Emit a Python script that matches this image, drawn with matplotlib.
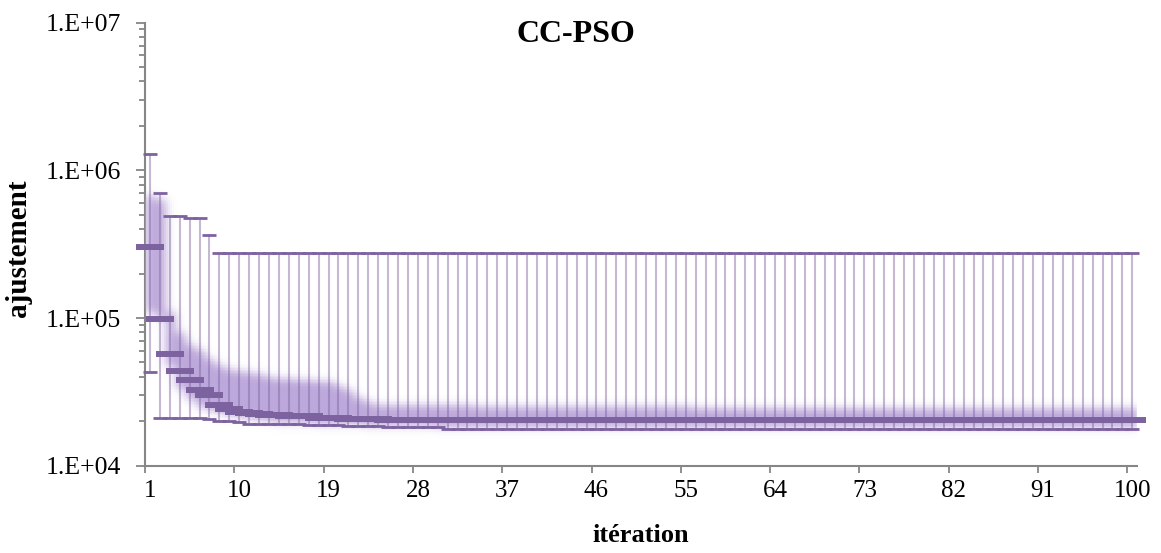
import numpy as np
import matplotlib
matplotlib.use("Agg")
import matplotlib.pyplot as plt
from matplotlib.colors import LinearSegmentedColormap
from matplotlib.ticker import FixedLocator, LogLocator, NullFormatter, FuncFormatter

# data
iterations = list(range(1, 101))
x_labels = [1, 10, 19, 28, 37, 46, 55, 64, 73, 82, 91, 100]

max_vals = [1.30e6, 7.0e5, 4.9e5, 4.9e5, 4.73e5, 4.73e5, 3.63e5, 2.76e5, 2.76e5, 2.76e5,
            2.76e5, 2.76e5, 2.76e5, 2.76e5, 2.76e5, 2.76e5, 2.76e5, 2.76e5, 2.76e5, 2.76e5,
            2.76e5, 2.76e5, 2.76e5, 2.76e5, 2.76e5, 2.76e5, 2.76e5, 2.76e5, 2.76e5, 2.76e5,
            2.76e5, 2.76e5, 2.76e5, 2.76e5, 2.76e5, 2.76e5, 2.76e5, 2.76e5, 2.76e5, 2.76e5,
            2.76e5, 2.76e5, 2.76e5, 2.76e5, 2.76e5, 2.76e5, 2.76e5, 2.76e5, 2.76e5, 2.76e5,
            2.76e5, 2.76e5, 2.76e5, 2.76e5, 2.76e5, 2.76e5, 2.76e5, 2.76e5, 2.76e5, 2.76e5,
            2.76e5, 2.76e5, 2.76e5, 2.76e5, 2.76e5, 2.76e5, 2.76e5, 2.76e5, 2.76e5, 2.76e5,
            2.76e5, 2.76e5, 2.76e5, 2.76e5, 2.76e5, 2.76e5, 2.76e5, 2.76e5, 2.76e5, 2.76e5,
            2.76e5, 2.76e5, 2.76e5, 2.76e5, 2.76e5, 2.76e5, 2.76e5, 2.76e5, 2.76e5, 2.76e5,
            2.76e5, 2.76e5, 2.76e5, 2.76e5, 2.76e5, 2.76e5, 2.76e5, 2.76e5, 2.76e5, 2.76e5]

mean_vals = [3.04e5, 9.9e4, 5.73e4, 4.4e4, 3.82e4, 3.27e4, 3.02e4, 2.59e4, 2.43e4, 2.30e4,
             2.26e4, 2.24e4, 2.22e4, 2.19e4, 2.18e4, 2.17e4, 2.16e4, 2.11e4, 2.10e4, 2.09e4,
             2.07e4, 2.07e4, 2.07e4, 2.06e4, 2.05e4, 2.05e4, 2.05e4, 2.05e4, 2.05e4, 2.05e4,
             2.05e4, 2.05e4, 2.04e4, 2.04e4, 2.04e4, 2.04e4, 2.04e4, 2.04e4, 2.04e4, 2.04e4,
             2.04e4, 2.04e4, 2.04e4, 2.04e4, 2.04e4, 2.04e4, 2.04e4, 2.04e4, 2.04e4, 2.04e4,
             2.04e4, 2.04e4, 2.04e4, 2.04e4, 2.04e4, 2.04e4, 2.04e4, 2.04e4, 2.04e4, 2.04e4,
             2.03e4, 2.03e4, 2.03e4, 2.03e4, 2.03e4, 2.03e4, 2.03e4, 2.03e4, 2.03e4, 2.03e4,
             2.03e4, 2.03e4, 2.03e4, 2.03e4, 2.03e4, 2.03e4, 2.03e4, 2.03e4, 2.03e4, 2.03e4,
             2.03e4, 2.03e4, 2.03e4, 2.03e4, 2.03e4, 2.03e4, 2.03e4, 2.03e4, 2.03e4, 2.03e4,
             2.03e4, 2.03e4, 2.03e4, 2.03e4, 2.03e4, 2.03e4, 2.03e4, 2.03e4, 2.03e4, 2.03e4]

min_vals = [4.29e4, 2.10e4, 2.10e4, 2.10e4, 2.10e4, 2.10e4, 2.06e4, 2.02e4, 2.02e4, 1.98e4,
            1.93e4, 1.92e4, 1.92e4, 1.92e4, 1.92e4, 1.91e4, 1.88e4, 1.88e4, 1.88e4, 1.88e4,
            1.85e4, 1.85e4, 1.85e4, 1.85e4, 1.82e4, 1.82e4, 1.82e4, 1.82e4, 1.82e4, 1.82e4,
            1.78e4, 1.78e4, 1.78e4, 1.78e4, 1.78e4, 1.78e4, 1.78e4, 1.78e4, 1.78e4, 1.78e4,
            1.78e4, 1.78e4, 1.78e4, 1.78e4, 1.78e4, 1.78e4, 1.78e4, 1.78e4, 1.78e4, 1.78e4,
            1.78e4, 1.78e4, 1.78e4, 1.78e4, 1.78e4, 1.78e4, 1.78e4, 1.78e4, 1.78e4, 1.78e4,
            1.78e4, 1.78e4, 1.78e4, 1.78e4, 1.78e4, 1.78e4, 1.78e4, 1.78e4, 1.78e4, 1.78e4,
            1.78e4, 1.78e4, 1.78e4, 1.78e4, 1.78e4, 1.78e4, 1.78e4, 1.78e4, 1.78e4, 1.78e4,
            1.78e4, 1.78e4, 1.78e4, 1.78e4, 1.78e4, 1.78e4, 1.78e4, 1.78e4, 1.78e4, 1.78e4,
            1.78e4, 1.78e4, 1.78e4, 1.78e4, 1.78e4, 1.78e4, 1.78e4, 1.78e4, 1.78e4, 1.78e4]

# shaded (soft edged) band per iteration
band_hi = [6.8e5, 6.3e5, 1.1e5, 8.0e4, 6.6e4, 6.0e4, 5.3e4, 4.8e4, 4.5e4, 4.4e4,
           4.3e4, 4.2e4, 4.0e4, 3.9e4, 3.85e4, 3.8e4, 3.8e4, 3.75e4, 3.7e4, 3.5e4,
           3.2e4, 2.9e4, 2.7e4, 2.6e4, 2.55e4, 2.55e4, 2.55e4, 2.55e4, 2.55e4, 2.55e4,
           2.55e4, 2.55e4, 2.55e4, 2.5e4, 2.5e4, 2.5e4, 2.5e4, 2.5e4, 2.5e4, 2.5e4,
           2.5e4, 2.5e4, 2.5e4, 2.5e4, 2.5e4, 2.5e4, 2.5e4, 2.5e4, 2.5e4, 2.5e4,
           2.5e4, 2.5e4, 2.5e4, 2.5e4, 2.5e4, 2.45e4, 2.45e4, 2.45e4, 2.45e4, 2.45e4,
           2.45e4, 2.45e4, 2.45e4, 2.45e4, 2.45e4, 2.45e4, 2.45e4, 2.45e4, 2.45e4, 2.45e4,
           2.45e4, 2.45e4, 2.45e4, 2.45e4, 2.45e4, 2.45e4, 2.45e4, 2.45e4, 2.45e4, 2.45e4,
           2.45e4, 2.45e4, 2.45e4, 2.45e4, 2.45e4, 2.45e4, 2.45e4, 2.45e4, 2.45e4, 2.45e4,
           2.45e4, 2.45e4, 2.45e4, 2.45e4, 2.45e4, 2.45e4, 2.45e4, 2.45e4, 2.45e4, 2.45e4]

band_lo = [1.1e5, 1.0e5, 4.7e4, 3.3e4, 2.8e4, 2.5e4, 2.4e4, 2.3e4, 2.2e4, 2.15e4,
           2.1e4, 2.05e4, 2.0e4, 1.95e4, 1.95e4, 1.95e4, 1.95e4, 1.9e4, 1.9e4, 1.9e4,
           1.9e4, 1.9e4, 1.85e4, 1.85e4, 1.85e4, 1.85e4, 1.85e4, 1.85e4, 1.85e4, 1.8e4,
           1.8e4, 1.8e4, 1.8e4, 1.8e4, 1.8e4, 1.8e4, 1.8e4, 1.8e4, 1.8e4, 1.8e4,
           1.8e4, 1.8e4, 1.8e4, 1.8e4, 1.8e4, 1.8e4, 1.8e4, 1.8e4, 1.8e4, 1.8e4,
           1.8e4, 1.8e4, 1.8e4, 1.8e4, 1.8e4, 1.8e4, 1.8e4, 1.8e4, 1.8e4, 1.8e4,
           1.8e4, 1.8e4, 1.8e4, 1.8e4, 1.8e4, 1.8e4, 1.8e4, 1.8e4, 1.8e4, 1.8e4,
           1.8e4, 1.8e4, 1.8e4, 1.8e4, 1.8e4, 1.8e4, 1.8e4, 1.8e4, 1.8e4, 1.8e4,
           1.8e4, 1.8e4, 1.8e4, 1.8e4, 1.8e4, 1.8e4, 1.8e4, 1.8e4, 1.8e4, 1.8e4,
           1.8e4, 1.8e4, 1.8e4, 1.8e4, 1.8e4, 1.8e4, 1.8e4, 1.8e4, 1.8e4, 1.8e4]

dark = '#7d62a0'
band_color = (0.74, 0.66, 0.86)
grey = '#868686'

plt.rcParams['font.family'] = ['Liberation Serif', 'DejaVu Serif']

fig = plt.figure(figsize=(11.61, 5.53), dpi=100)
ax = fig.add_axes([145 / 1161, 1 - 465.7 / 553, (1137.3 - 145) / 1161, 443 / 553])
ax.set_yscale('log')
ax.set_xlim(0.5, 100.5)
ax.set_ylim(1e4, 1e7)

# soft band: box per iteration, blurred, drawn as a mesh on the log axis
xe = np.arange(-1.0, 102.0 + 1e-9, 0.2)
ye = np.arange(3.9, 6.3 + 1e-9, 0.01)
xc = (xe[:-1] + xe[1:]) / 2
yc = (ye[:-1] + ye[1:]) / 2
idx = np.rint(xc).astype(int)
lo = np.log10(np.array(band_lo))
hi = np.log10(np.array(band_hi))
mask = np.zeros((len(yc), len(xc)))
for k, i in enumerate(idx):
    if 1 <= i <= 100:
        mask[:, k] = ((yc >= lo[i - 1]) & (yc <= hi[i - 1])).astype(float)


def gauss(s):
    r = np.arange(-int(4 * s), int(4 * s) + 1)
    g = np.exp(-0.5 * (r / s) ** 2)
    return g / g.sum()


kx, ky = gauss(2.4), gauss(3.0)
mask = np.apply_along_axis(lambda v: np.convolve(v, kx, mode='same'), 1, mask)
mask = np.apply_along_axis(lambda v: np.convolve(v, ky, mode='same'), 0, mask)
cmap = LinearSegmentedColormap.from_list('band', [band_color + (0.0,), band_color + (1.0,)])
ax.pcolormesh(xe, 10 ** ye, mask, cmap=cmap, vmin=0, vmax=1, shading='flat', zorder=1)

# high-low lines and markers
ax.vlines(iterations, min_vals, max_vals, color=dark, alpha=0.45, lw=1.5, zorder=2)
ax.plot(iterations, max_vals, ls='none', marker='_', ms=10, mew=2.0, color=dark,
        clip_on=False, zorder=3)
ax.plot(iterations, min_vals, ls='none', marker='_', ms=10, mew=2.0, color=dark,
        clip_on=False, zorder=3)
ax.plot(iterations, mean_vals, ls='none', marker='_', ms=19.5, mew=4.3, color=dark,
        clip_on=False, zorder=4)

# axes styling
for s in ['top', 'right']:
    ax.spines[s].set_visible(False)
for s in ['left', 'bottom']:
    ax.spines[s].set_color(grey)
    ax.spines[s].set_linewidth(1.5)
    ax.spines[s].set_zorder(0.5)

ax.yaxis.set_major_locator(FixedLocator([1e4, 1e5, 1e6, 1e7]))
ax.yaxis.set_major_formatter(FuncFormatter(lambda v, p: '1.E+%02d' % int(round(np.log10(v)))))
ax.yaxis.set_minor_locator(LogLocator(base=10, subs=range(2, 10)))
ax.yaxis.set_minor_formatter(NullFormatter())
ax.tick_params(axis='y', which='major', length=6.5, width=1.3, color=grey, pad=11, labelsize=18.5)
ax.tick_params(axis='y', which='minor', length=4.3, width=1.3, color=grey)

ax.set_xticks(x_labels)
ax.set_xticklabels([str(v) for v in x_labels])
ax.set_xticks([0.5 + 9 * k for k in range(12)], minor=True)
ax.tick_params(axis='x', which='major', length=0, pad=10.5, labelsize=18)
ax.tick_params(axis='x', which='minor', length=5, width=1.3, color=grey)

ax.set_ylabel('ajustement', fontsize=21, fontweight='bold')
ax.yaxis.set_label_coords(-0.127, 0.49)
ax.set_xlabel('itération', fontsize=19, fontweight='bold')
ax.xaxis.set_label_coords(0.5, -0.158)
ax.xaxis.label.set_va('center')
ax.yaxis.label.set_va('center')

fig.text(576 / 1161, 1 - 35 / 553, 'CC-PSO', ha='center', va='center',
         fontsize=23, fontweight='bold')

fig.savefig('out.png', dpi=100, facecolor='white')
